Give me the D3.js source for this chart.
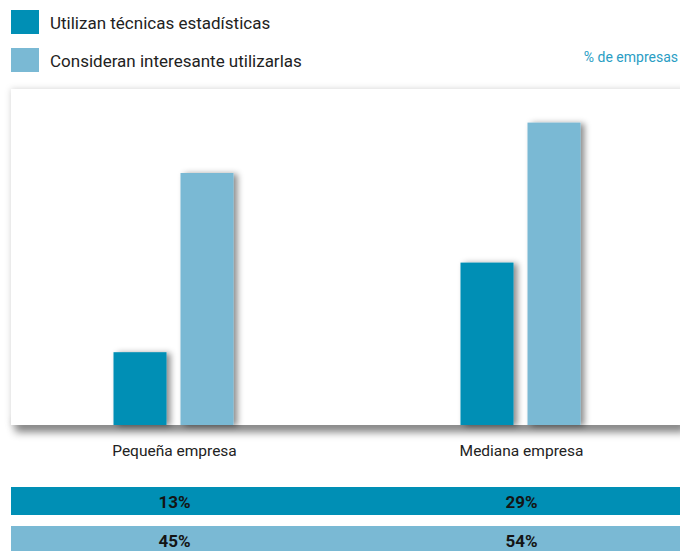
<!DOCTYPE html>
<html>
<head>
<meta charset="utf-8">
<script src="https://cdn.jsdelivr.net/npm/d3@7/dist/d3.min.js"></script>
<style>
  html, body { margin: 0; padding: 0; background: #ffffff; }
  svg { display: block; }
  text { font-family: Roboto, "Noto Sans", sans-serif; }
</style>
</head>
<body>
<svg id="chart" width="680" height="551"></svg>
<script>
// Company size groups
const categories = ["Pequeña empresa", "Mediana empresa"];
// Series (percent of companies)
const seriesNames = ["Utilizan técnicas estadísticas", "Consideran interesante utilizarlas"];
const usanValues = [13, 29];
const interesanValues = [45, 54];
const seriesColors = ["#008fb5", "#7ab9d4"];
const unitLabel = "% de empresas";

const W = 680, H = 551;
const svg = d3.select("#chart");

// Shadows
const defs = svg.append("defs");
const boxShadow = defs.append("filter").attr("id", "boxShadow")
  .attr("x", "-5%").attr("y", "-10%").attr("width", "110%").attr("height", "125%");
boxShadow.append("feDropShadow").attr("dx", 0).attr("dy", 0)
  .attr("stdDeviation", 3).attr("flood-color", "#000").attr("flood-opacity", 0.18);
const bottomShadow = defs.append("filter").attr("id", "bottomShadow")
  .attr("x", "-5%").attr("y", "-200%").attr("width", "110%").attr("height", "500%");
bottomShadow.append("feGaussianBlur").attr("stdDeviation", 4);
const barShadow = defs.append("filter").attr("id", "barShadow")
  .attr("x", "-30%").attr("y", "-10%").attr("width", "170%").attr("height", "120%");
barShadow.append("feDropShadow").attr("dx", 4).attr("dy", 1)
  .attr("stdDeviation", 3).attr("flood-color", "#000").attr("flood-opacity", 0.45);

// Plot frame geometry
const frame = { left: 11, top: 89, right: 690, bottom: 425 };

// Scales
const x0 = d3.scaleBand().domain(categories).range([0, 694]).padding(0);
const y = d3.scaleLinear().domain([0, 60]).range([frame.bottom, frame.top]);
const barW = 53, innerGap = 7;

// Legend
const legend = svg.append("g");
seriesNames.forEach((name, i) => {
  const g = legend.append("g").attr("transform", `translate(11,${10 + i * 38})`);
  g.append("rect").attr("width", 28).attr("height", 24).attr("fill", seriesColors[i]);
  g.append("text").attr("x", 39).attr("y", 18.5)
    .attr("font-size", 17).attr("fill", "#222").text(name);
});
svg.append("text").attr("x", 678).attr("y", 62).attr("text-anchor", "end")
  .attr("font-size", 14).attr("fill", "#2a9dc4").text(unitLabel);

// Frame with soft shadow and darker lower edge shadow
svg.append("rect")
  .attr("x", frame.left + 4).attr("y", frame.bottom - 4)
  .attr("width", frame.right - frame.left - 8).attr("height", 11)
  .attr("fill", "#000").attr("opacity", 0.5).attr("filter", "url(#bottomShadow)");
svg.append("rect")
  .attr("x", frame.left).attr("y", frame.top)
  .attr("width", frame.right - frame.left).attr("height", frame.bottom - frame.top)
  .attr("fill", "#ffffff").attr("filter", "url(#boxShadow)");

// Bars
const groups = svg.append("g").selectAll("g").data(categories).join("g")
  .attr("transform", d => `translate(${x0(d) + x0.bandwidth() / 2},0)`);
const barData = (d, i) => [
  { v: usanValues[i], s: 0, x: -innerGap - barW },
  { v: interesanValues[i], s: 1, x: innerGap }
];
groups.selectAll("rect").data(barData).join("rect")
  .attr("x", d => d.x).attr("width", barW)
  .attr("y", d => y(d.v)).attr("height", d => frame.bottom - y(d.v))
  .attr("fill", d => seriesColors[d.s]).attr("filter", "url(#barShadow)");

// Category axis labels
const xAxis = d3.axisBottom(x0).tickSize(0).tickPadding(0);
const axisG = svg.append("g").attr("transform", "translate(1,456)").call(xAxis);
axisG.select(".domain").remove();
axisG.selectAll("text").attr("dy", 0).attr("font-size", 15.5)
  .attr("fill", "#222").attr("font-family", "Roboto, sans-serif");

// Value table rows beneath
const rows = [usanValues, interesanValues];
const rowTop = [487, 526];
rows.forEach((vals, r) => {
  svg.append("rect").attr("x", 11).attr("y", rowTop[r])
    .attr("width", W - 11).attr("height", 28).attr("fill", seriesColors[r]);
  svg.append("g").selectAll("text").data(vals).join("text")
    .attr("x", (d, i) => x0(categories[i]) + x0.bandwidth() / 2 + 1)
    .attr("y", rowTop[r] + 20.5)
    .attr("text-anchor", "middle").attr("font-size", 17).attr("font-weight", "bold")
    .attr("fill", "#141414").text(d => d + "%");
});
</script>
</body>
</html>
